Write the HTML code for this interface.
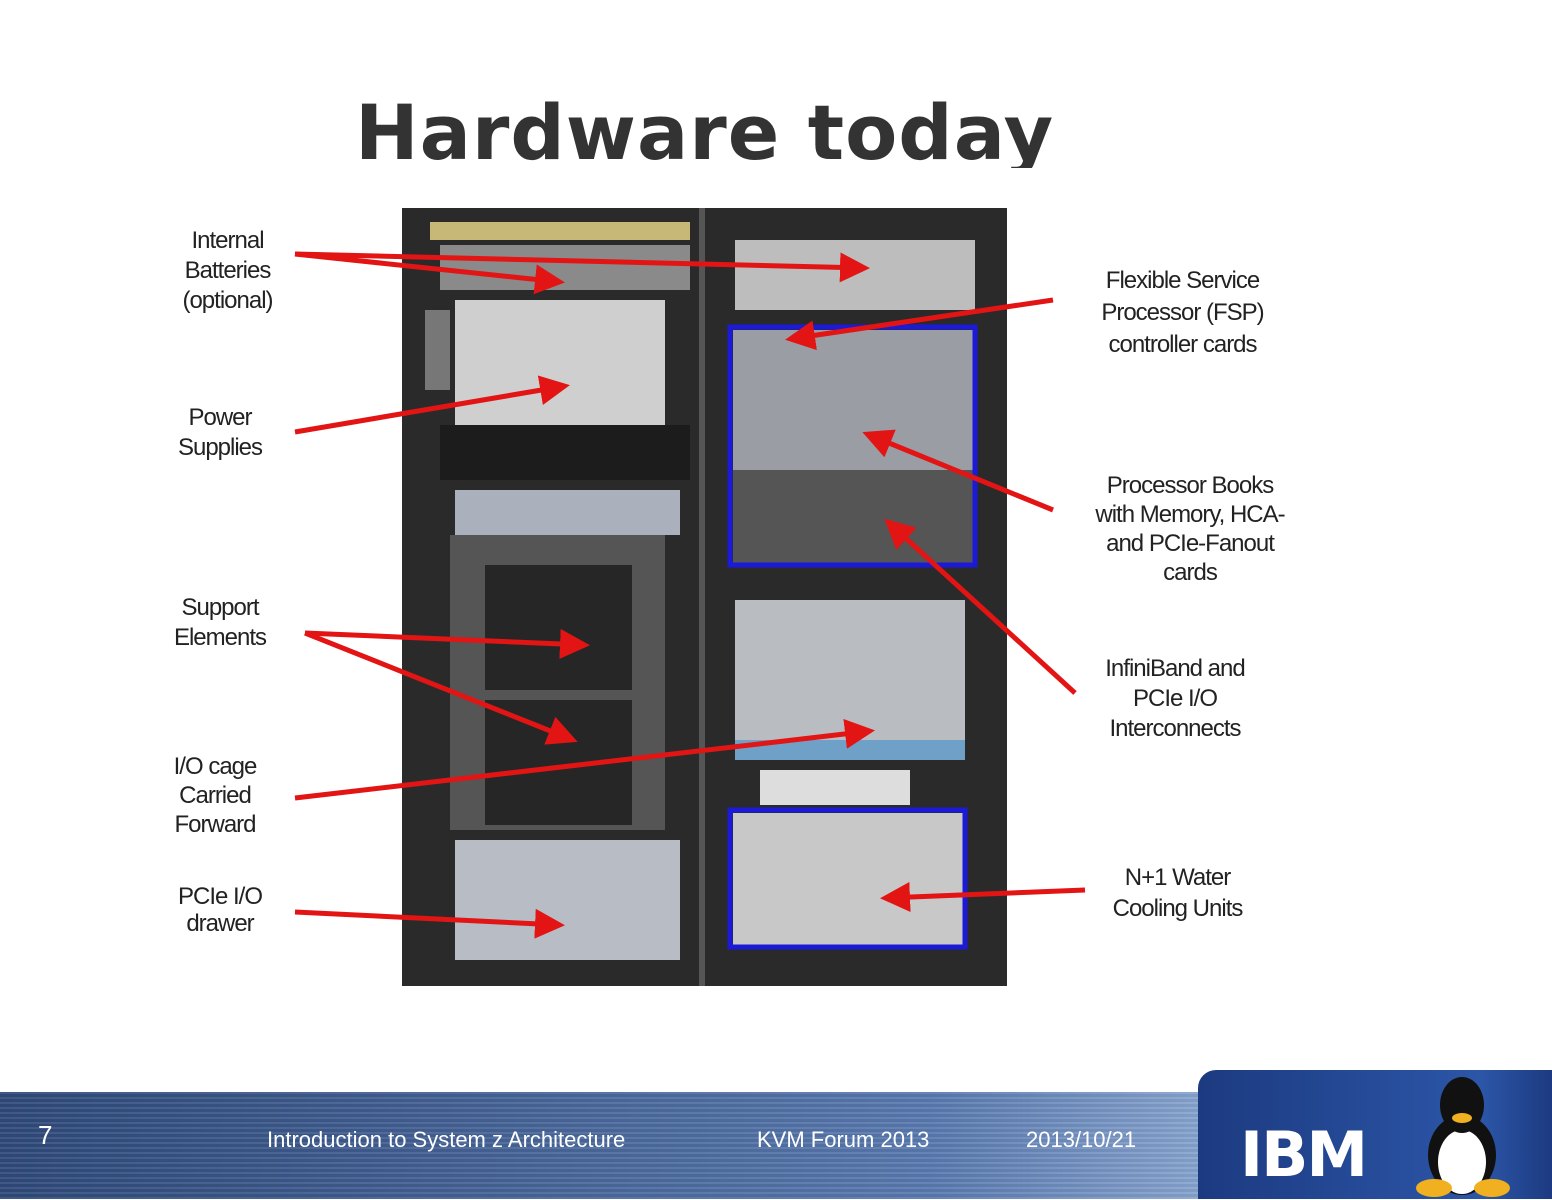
<!DOCTYPE html>
<html><head><meta charset="utf-8"><style>
body{margin:0;width:1552px;height:1199px;background:#fff;position:relative;overflow:hidden;font-family:"Liberation Sans",sans-serif}
.t{position:absolute;left:355px;top:88px;height:80px;overflow:hidden;font:bold 76px "DejaVu Sans",sans-serif;color:#333;white-space:nowrap;letter-spacing:1px}
.l{position:absolute;font-size:24px;color:#222;text-align:center;line-height:30px;letter-spacing:-1px}
.f{position:absolute;top:1092px;left:0;width:1552px;height:107px;background:repeating-linear-gradient(180deg,rgba(255,255,255,.08) 0 2px,rgba(0,0,0,.05) 2px 5px),linear-gradient(90deg,#2f4a7a,#5a7ab0 60%,#8aa6d0 78%,#3a5a96)}
.ft{position:absolute;color:#fff;font-size:22px;top:1127px}
</style></head><body>
<div class="t">Hardware today</div>
<svg width="1552" height="1199" style="position:absolute;left:0;top:0">
<defs><marker id="a" markerWidth="6" markerHeight="6" refX="5" refY="3" orient="auto" markerUnits="strokeWidth"><path d="M0,0L6,3L0,6z" fill="#e31414"/></marker></defs>
<rect x="402" y="208" width="605" height="778" fill="#2a2a2a"/>
<rect x="699" y="208" width="6" height="778" fill="#555"/>
<rect x="430" y="222" width="260" height="18" fill="#c8b878"/>
<rect x="440" y="245" width="250" height="45" fill="#8a8a8a"/>
<rect x="455" y="300" width="210" height="125" fill="#cfcfcf"/>
<rect x="425" y="310" width="25" height="80" fill="#777"/>
<rect x="440" y="425" width="250" height="55" fill="#1c1c1c"/>
<rect x="455" y="490" width="225" height="45" fill="#aab0bc"/>
<rect x="450" y="535" width="215" height="295" fill="#555"/>
<rect x="485" y="565" width="147" height="125" fill="#262626"/>
<rect x="485" y="700" width="147" height="125" fill="#262626"/>
<rect x="455" y="840" width="225" height="120" fill="#b8bcc4"/>
<rect x="735" y="240" width="240" height="70" fill="#bdbdbd"/>
<rect x="733" y="330" width="240" height="233" fill="#9a9ea4"/>
<rect x="733" y="470" width="240" height="93" fill="#555"/>
<rect x="730" y="327" width="245" height="238" fill="none" stroke="#1a1ad8" stroke-width="5"/>
<rect x="735" y="600" width="230" height="160" fill="#b9bcc0"/>
<rect x="735" y="740" width="230" height="20" fill="#6fa0c8"/>
<rect x="760" y="770" width="150" height="35" fill="#ddd"/>
<rect x="733" y="813" width="230" height="132" fill="#c8c8c8"/>
<rect x="730" y="810" width="235" height="137" fill="none" stroke="#1a1ad8" stroke-width="5"/>
<g stroke="#e31414" stroke-width="5" marker-end="url(#a)" fill="none">
<line x1="295" y1="254" x2="560" y2="282"/>
<line x1="295" y1="254" x2="865" y2="268"/>
<line x1="1053" y1="300" x2="790" y2="339"/>
<line x1="295" y1="432" x2="565" y2="386"/>
<line x1="1053" y1="510" x2="867" y2="434"/>
<line x1="1075" y1="693" x2="888" y2="522"/>
<line x1="305" y1="633" x2="585" y2="645"/>
<line x1="305" y1="633" x2="573" y2="740"/>
<line x1="295" y1="798" x2="870" y2="731"/>
<line x1="295" y1="912" x2="560" y2="925"/>
<line x1="1085" y1="890" x2="885" y2="898"/>
</g>
</svg>
<div class="l" style="left:150px;top:226px;width:155px">Internal<br>Batteries<br>(optional)</div>
<div class="l" style="left:150px;top:403px;width:140px">Power<br>Supplies</div>
<div class="l" style="left:150px;top:593px;width:140px">Support<br>Elements</div>
<div class="l" style="left:145px;top:752px;width:140px;line-height:29px">I/O cage<br>Carried<br>Forward</div>
<div class="l" style="left:150px;top:883px;width:140px;line-height:27px">PCIe I/O<br>drawer</div>
<div class="l" style="left:1060px;top:265px;width:245px;line-height:32px">Flexible Service<br>Processor (FSP)<br>controller cards</div>
<div class="l" style="left:1070px;top:471px;width:240px;line-height:29px">Processor Books<br>with Memory, HCA-<br>and PCIe-Fanout<br>cards</div>
<div class="l" style="left:1075px;top:654px;width:200px;line-height:30px">InfiniBand and<br>PCIe I/O<br>Interconnects</div>
<div class="l" style="left:1080px;top:862px;width:195px;line-height:31px">N+1 Water<br>Cooling Units</div>
<div class="f"></div>
<div class="ft" style="left:38px;top:1120px;font-size:26px">7</div>
<div class="ft" style="left:267px">Introduction to System z Architecture</div>
<div class="ft" style="left:757px">KVM Forum 2013</div>
<div class="ft" style="left:1026px">2013/10/21</div>
<div style="position:absolute;left:1198px;top:1070px;width:354px;height:129px;background:linear-gradient(90deg,#1c3a80,#2c56a8 80%,#1c3a80);border-top-left-radius:18px"></div>
<div style="position:absolute;left:1240px;top:1120px;font:bold 62px 'DejaVu Sans',sans-serif;color:#fff;letter-spacing:-2px;background:repeating-linear-gradient(180deg,transparent 0 6px,#244a98 6px 9px);-webkit-background-clip:text;line-height:70px">IBM</div>
<svg width="120" height="130" style="position:absolute;left:1412px;top:1070px">
<ellipse cx="50" cy="85" rx="34" ry="40" fill="#111"/>
<ellipse cx="50" cy="92" rx="24" ry="32" fill="#fff"/>
<ellipse cx="50" cy="35" rx="22" ry="28" fill="#111"/>
<ellipse cx="50" cy="48" rx="10" ry="5" fill="#f0b020"/>
<ellipse cx="22" cy="118" rx="18" ry="9" fill="#f0b020"/>
<ellipse cx="80" cy="118" rx="18" ry="9" fill="#f0b020"/>
</svg>
</body></html>
